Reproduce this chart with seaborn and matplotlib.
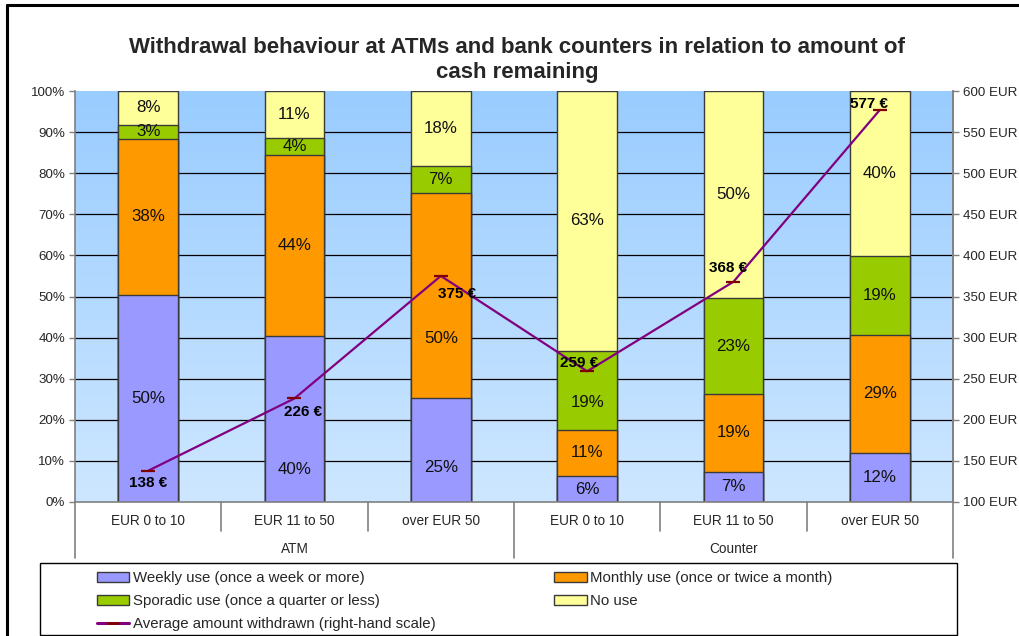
import numpy as np
import pandas as pd
import matplotlib
matplotlib.use("Agg")
import matplotlib.pyplot as plt
from matplotlib.patches import Patch, Rectangle
from matplotlib.lines import Line2D
from matplotlib.transforms import blended_transform_factory
import seaborn as sns

# --- data -------------------------------------------------------------
groups = ["ATM", "ATM", "ATM", "Counter", "Counter", "Counter"]
categories = ["EUR 0 to 10", "EUR 11 to 50", "over EUR 50",
              "EUR 0 to 10", "EUR 11 to 50", "over EUR 50"]
weekly = [50.4, 40.4, 25.3, 6.3, 7.4, 12.0]
monthly = [38.0, 44.0, 49.9, 11.3, 18.9, 28.6]
sporadic = [3.4, 4.2, 6.6, 19.2, 23.3, 19.3]
no_use = [8.2, 11.4, 18.2, 63.2, 50.4, 40.1]
avg_amount = [138, 226, 375, 259, 368, 577]

series_names = ["Weekly use (once a week or more)",
                "Monthly use (once or twice a month)",
                "Sporadic use (once a quarter or less)",
                "No use"]
line_name = "Average amount withdrawn (right-hand scale)"
title = ("Withdrawal behaviour at ATMs and bank counters in relation to amount of\n"
         "cash remaining")
pct_ticks = list(range(0, 101, 10))
eur_ticks = list(range(100, 601, 50))

# --- styling ----------------------------------------------------------
colors = ["#9999FF", "#FF9900", "#99CC00", "#FFFF99"]
line_color = "#800080"
marker_color = "#800000"
edge_color = "#3a3a3a"
axis_gray = "#808080"

# value labels nudged away from the line labels (series level, bar index) -> y in %
label_y_override = {(0, 1): 8.0, (0, 2): 8.3, (1, 2): 39.9, (2, 3): 24.2}
# offsets (points) of the amount labels from their points
amount_label_offsets = [(0, -9), (6, -10), (12, -13), (-6, 6), (-4, 10), (-8, 4)]

sns.set_theme(style="white")
plt.rcParams["font.family"] = ["Liberation Sans", "DejaVu Sans"]

W, H = 1019, 636
fig = plt.figure(figsize=(W / 100, H / 100), dpi=100)
fig.patch.set_facecolor("white")
ax = fig.add_axes([75 / W, 134 / H, 878 / W, 411 / H])

keys = [f"{g}|{c}" for g, c in zip(groups, categories)]
segments = [weekly, monthly, sporadic, no_use]
cum = np.cumsum(np.array(segments), axis=0)

# gradient plot-area background (deeper blue at the top)
grad = np.linspace(0, 1, 256)[:, None]
top_rgb = np.array([153, 204, 255]) / 255
bot_rgb = np.array([206, 231, 255]) / 255
img = top_rgb[None, None, :] * (1 - grad[..., None]) + bot_rgb[None, None, :] * grad[..., None]
ax.imshow(img, extent=[-0.5, 5.5, 0, 100], aspect="auto", zorder=0, origin="upper")

# stacked bars: draw cumulative totals from the top segment down
for level in range(3, -1, -1):
    df = pd.DataFrame({"key": keys, "value": cum[level]})
    sns.barplot(data=df, x="key", y="value", order=keys, color=colors[level],
                saturation=1, width=0.41, edgecolor=edge_color, linewidth=1.0,
                errorbar=None, ax=ax, zorder=2)

# segment value labels
for level in range(4):
    vals = segments[level]
    for i, v in enumerate(vals):
        bottom = cum[level][i] - v
        y = label_y_override.get((level, i), bottom + v / 2)
        ax.text(i, y, f"{v:.0f}%", ha="center", va="center",
                fontsize=12.2, color="#111111", zorder=5)

ax.set_xlim(-0.5, 5.5)
ax.set_ylim(0, 100)
ax.set_yticks(pct_ticks)
ax.set_yticklabels([f"{t}%" for t in pct_ticks], fontsize=9.6)
ax.set_xticks([])
ax.set_xlabel("")
ax.set_ylabel("")
for t in pct_ticks[1:-1]:
    ax.axhline(t, color="black", lw=0.9, zorder=1)
ax.tick_params(axis="y", left=True, length=4, width=1, color=axis_gray, pad=3)
ax.spines["top"].set_visible(False)
for side in ["left", "bottom", "right"]:
    ax.spines[side].set_color(axis_gray)
    ax.spines[side].set_linewidth(1.2)

# two-level category axis
tr = blended_transform_factory(ax.transData, ax.transAxes)
for i, c in enumerate(categories):
    ax.text(i, -0.047, c, transform=tr, ha="center", va="center", fontsize=9.8)
for gname in dict.fromkeys(groups):
    idx = [i for i, g in enumerate(groups) if g == gname]
    ax.text(np.mean(idx), -0.115, gname, transform=tr, ha="center", va="center", fontsize=9.8)
for b in np.arange(-0.5, 6, 1.0):
    long = b in (-0.5, 5.5) or groups[int(b - 0.5)] != groups[int(b + 0.5)]
    ax.plot([b, b], [0, -0.137 if long else -0.071], transform=tr, color=axis_gray,
            lw=1.2, clip_on=False, zorder=3)

# secondary axis: average amount withdrawn
ax2 = ax.twinx()
ax2.set_ylim(100, 600)
ax2.set_xlim(-0.5, 5.5)
sns.lineplot(x=np.arange(len(avg_amount)), y=avg_amount, ax=ax2, color=line_color,
             lw=1.6, marker="_", markersize=10, markeredgewidth=1.6,
             markeredgecolor=marker_color, sort=False, zorder=6)
ax2.set_yticks(eur_ticks)
ax2.set_yticklabels([f"{t} EUR" for t in eur_ticks], fontsize=9.6)
ax2.tick_params(axis="y", right=True, length=4, width=1, color=axis_gray, pad=3)
ax2.set_xticks([])
ax2.set_ylabel("")
for side in ["top", "left", "bottom"]:
    ax2.spines[side].set_visible(False)
ax2.spines["right"].set_color(axis_gray)
ax2.spines["right"].set_linewidth(1.2)
ax2.grid(False)

for i, (v, off) in enumerate(zip(avg_amount, amount_label_offsets)):
    ax2.annotate(f"{v} €", (i, v), xytext=off, textcoords="offset points",
                 ha="center", va="center", fontsize=11, fontweight="bold",
                 color="black", zorder=7)

# title
fig.text(517 / W, 1 - 60 / H, title, ha="center", va="center", fontsize=16,
         fontweight="bold", linespacing=1.2)

# legend box and entries
fig.add_artist(Rectangle((40 / W, 1 - 635 / H), 917 / W, 72 / H, transform=fig.transFigure,
                         facecolor="white", edgecolor="black", lw=1.0))
handles = [Patch(facecolor=colors[0], edgecolor=edge_color),
           Patch(facecolor=colors[2], edgecolor=edge_color),
           Line2D([], [], color=line_color, lw=2.2, marker="_", markersize=8,
                  markeredgecolor=marker_color, markeredgewidth=2),
           Patch(facecolor=colors[1], edgecolor=edge_color),
           Patch(facecolor=colors[3], edgecolor=edge_color)]
labels = [series_names[0], series_names[2], line_name, series_names[1], series_names[3]]
fig.legend(handles, labels, ncol=2, loc="upper left",
           bbox_to_anchor=(91 / W, 1 - 565 / H), frameon=False,
           prop={"size": 10.8},
           handlelength=2.15, handleheight=0.7, handletextpad=0.25,
           labelspacing=0.6, columnspacing=7.9, borderaxespad=0)

# outer chart frame
fig.add_artist(Line2D([7 / W, 7 / W], [0, 1 - 5 / H], transform=fig.transFigure,
                      color="black", lw=2.2))
fig.add_artist(Line2D([7 / W, 1], [1 - 5 / H, 1 - 5 / H], transform=fig.transFigure,
                      color="black", lw=2.2))

fig.savefig("out.png", dpi=100)
